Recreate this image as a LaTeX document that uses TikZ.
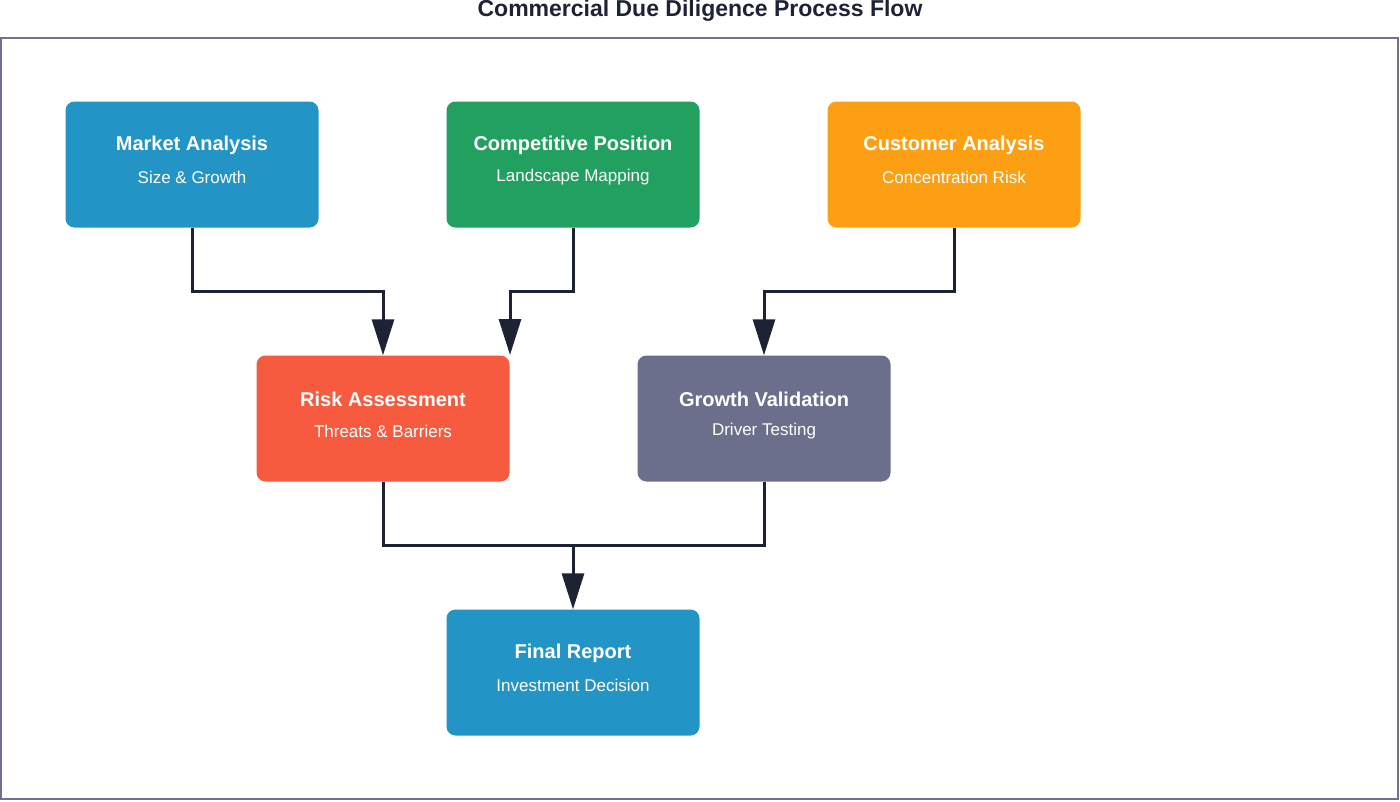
\documentclass[tikz,border=0pt]{standalone}
\usepackage{fontspec}
\setmainfont{Liberation Sans}
\usetikzlibrary{arrows.meta}
\definecolor{cblue}{HTML}{2394C6}
\definecolor{cgreen}{HTML}{21A060}
\definecolor{corange}{HTML}{FD9F12}
\definecolor{cred}{HTML}{F75B3F}
\definecolor{cgray}{HTML}{6B6F8C}
\definecolor{cline}{HTML}{1E2235}
\definecolor{cframe}{HTML}{707090}
\begin{document}
\begin{tikzpicture}[x=1pt,y=-1pt,
 box/.style={rounded corners=9pt,minimum width=253pt,minimum height=126pt,inner sep=0pt,text=white,align=center},
 conn/.style={draw=cline,line width=3pt},
 arr/.style={conn,-{Triangle[length=36pt,width=22pt]}}]
\useasboundingbox (0,0) rectangle (1400,801);
\fill[white] (0,0) rectangle (1400,801);
\draw[cframe,line width=2pt] (1,38) rectangle (1398,799);
\node[font=\bfseries\fontsize{23}{26}\selectfont,text=cline] (title) at (700,11) {Commercial Due Diligence Process Flow};
\newcommand{\bx}[5]{\node[box,fill=#4] (#1) at #2 {};
 \node[text=white,font=\bfseries\fontsize{20}{24}\selectfont] (#1t) at ($#2+(0,-19)$) {#3};
 \node[text=white,font=\fontsize{17}{20}\selectfont] (#1s) at ($#2+(0,13)$) {#5};}
\usetikzlibrary{calc}
\bx{ma}{(192,164.5)}{Market Analysis}{cblue}{Size \& Growth}
\bx{cp}{(573,164.5)}{Competitive Position}{cgreen}{Landscape Mapping}
\bx{ca}{(954,164.5)}{Customer Analysis}{corange}{Concentration Risk}
\bx{ra}{(383,418.5)}{Risk Assessment}{cred}{Threats \& Barriers}
\bx{gv}{(764,418.5)}{Growth Validation}{cgray}{Driver Testing}
\bx{fr}{(573,672.5)}{Final Report}{cblue}{Investment Decision}
\coordinate (raR) at (510,355);
\draw[arr] (ma.south) |- (383,291) -- (ra.north);
\draw[arr] (cp.south) |- (510,291) -- (raR);
\draw[arr] (ca.south) |- (764,291) -- (gv.north);
\draw[conn] (ra.south) |- (573,545);
\draw[conn] (gv.south) |- (573,545);
\draw[arr] (573,545) -- (fr.north);
\end{tikzpicture}
\end{document}
